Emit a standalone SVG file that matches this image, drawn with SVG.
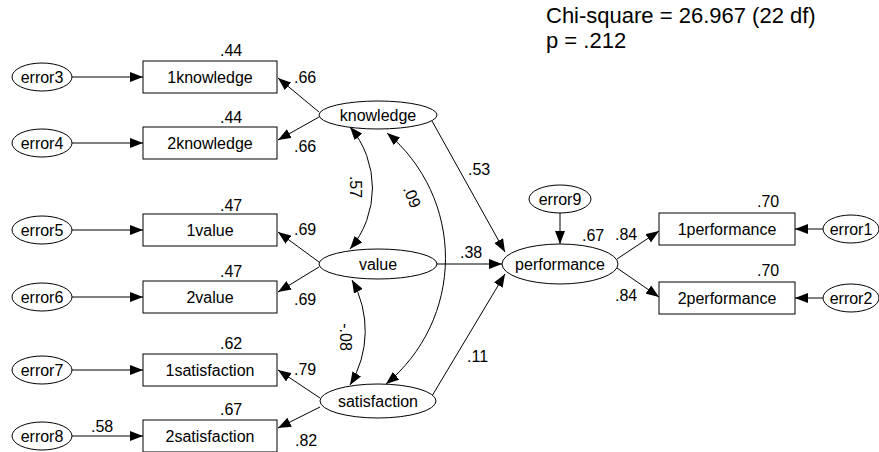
<svg xmlns="http://www.w3.org/2000/svg" width="879" height="452" viewBox="0 0 879 452">
<defs>
<marker id="ah" viewBox="0 0 13 10" refX="13" refY="5" markerWidth="13" markerHeight="10" markerUnits="userSpaceOnUse" orient="auto-start-reverse">
<path d="M0,0 L13,5 L0,10 z" fill="#000"/>
</marker>
<style>
text{font-family:"Liberation Sans",Arial,sans-serif;font-size:16px;fill:#000}
.big{font-size:22px}
.c{text-anchor:middle}
rect,ellipse{fill:#fff;stroke:#000;stroke-width:1}
.ln{fill:none;stroke:#000;stroke-width:1;marker-end:url(#ah)}
.dbl{fill:none;stroke:#000;stroke-width:1;marker-start:url(#ah);marker-end:url(#ah)}
</style>
</defs>
<rect width="879" height="452" fill="#fff" style="stroke:none"/>
<g id="fit">
<text class="big" x="546" y="22.5">Chi-square = 26.967 (22 df)</text>
<text class="big" x="546" y="47.5">p = .212</text>
</g>
<g id="connectors">
<path class="ln" d="M72,77 L143,77"/>
<path class="ln" d="M72,143 L143,143"/>
<path class="ln" d="M72,230 L143,230"/>
<path class="ln" d="M72,297 L143,297"/>
<path class="ln" d="M72,370 L143,370"/>
<path class="ln" d="M72,436 L143,436"/>
<path class="ln" d="M319,112 L278,78"/>
<path class="ln" d="M319,117 L278,140"/>
<path class="ln" d="M319,262 L278,232"/>
<path class="ln" d="M319,267 L278,292"/>
<path class="ln" d="M320,398 L278,370"/>
<path class="ln" d="M320,407 L278,428"/>
<path class="ln" d="M432,121 L505,252"/>
<path class="ln" d="M437,264 L502,264"/>
<path class="ln" d="M432,396 L505,274"/>
<path class="ln" d="M560,213 L560,244"/>
<path class="ln" d="M617,259 L659,231"/>
<path class="ln" d="M617,268 L659,297"/>
<path class="ln" d="M823,229 L795,229"/>
<path class="ln" d="M823,298 L795,298"/>
<path class="dbl" d="M350,127 A94,94 0 0 1 350,249"/>
<path class="dbl" d="M387,133 A163,163 0 0 1 386,384"/>
<path class="dbl" d="M352,280 A104,104 0 0 1 350,385"/>
</g>
<g id="error3"><ellipse cx="42" cy="77" rx="30" ry="14"/><text class="c" x="42" y="82.5">error3</text></g>
<g id="error4"><ellipse cx="42" cy="143" rx="30" ry="14"/><text class="c" x="42" y="148.5">error4</text></g>
<g id="error5"><ellipse cx="42" cy="230" rx="30" ry="14"/><text class="c" x="42" y="235.5">error5</text></g>
<g id="error6"><ellipse cx="42" cy="297" rx="30" ry="14"/><text class="c" x="42" y="302.5">error6</text></g>
<g id="error7"><ellipse cx="42" cy="370" rx="30" ry="14"/><text class="c" x="42" y="375.5">error7</text></g>
<g id="error8"><ellipse cx="42" cy="436" rx="30" ry="14"/><text class="c" x="42" y="441.5">error8</text></g>
<g id="b1knowledge"><rect x="143" y="61" width="134" height="32"/><text class="c" x="210" y="82.5">1knowledge</text></g>
<g id="b2knowledge"><rect x="143" y="127" width="134" height="32"/><text class="c" x="210" y="148.5">2knowledge</text></g>
<g id="b1value"><rect x="143" y="214" width="134" height="32"/><text class="c" x="210" y="235.5">1value</text></g>
<g id="b2value"><rect x="143" y="281" width="134" height="32"/><text class="c" x="210" y="302.5">2value</text></g>
<g id="b1satisfaction"><rect x="143" y="354" width="134" height="32"/><text class="c" x="210" y="375.5">1satisfaction</text></g>
<g id="b2satisfaction"><rect x="143" y="420" width="134" height="32"/><text class="c" x="210" y="441.5">2satisfaction</text></g>
<g id="knowledge"><ellipse cx="378" cy="115" rx="59" ry="14"/><text class="c" x="378" y="120.5">knowledge</text></g>
<g id="value"><ellipse cx="378" cy="264" rx="59" ry="15"/><text class="c" x="378" y="269.5">value</text></g>
<g id="satisfaction"><ellipse cx="378" cy="401" rx="58" ry="17"/><text class="c" x="378" y="406.5">satisfaction</text></g>
<g id="error9"><ellipse cx="560" cy="199" rx="31" ry="14"/><text class="c" x="560" y="204.5">error9</text></g>
<g id="performance"><ellipse cx="560" cy="264" rx="58" ry="20"/><text class="c" x="560" y="269.5">performance</text></g>
<g id="b1performance"><rect x="659" y="213" width="136" height="32"/><text class="c" x="727" y="234.5">1performance</text></g>
<g id="b2performance"><rect x="659" y="282" width="136" height="32"/><text class="c" x="727" y="303.5">2performance</text></g>
<g id="error1"><ellipse cx="851" cy="229" rx="28" ry="14"/><text class="c" x="851" y="234.5">error1</text></g>
<g id="error2"><ellipse cx="851" cy="298" rx="28" ry="14"/><text class="c" x="851" y="303.5">error2</text></g>
<g id="labels">
<text x="220" y="56">.44</text>
<text x="220" y="123">.44</text>
<text x="294" y="83">.66</text>
<text x="294" y="152">.66</text>
<text x="220" y="211">.47</text>
<text x="220" y="277">.47</text>
<text x="294" y="235">.69</text>
<text x="294" y="305">.69</text>
<text x="220" y="349">.62</text>
<text x="220" y="415">.67</text>
<text x="294" y="375">.79</text>
<text x="295" y="446">.82</text>
<text x="91" y="432">.58</text>
<text x="468" y="175">.53</text>
<text x="460" y="258">.38</text>
<text x="467" y="362">.11</text>
<text x="582" y="241">.67</text>
<text x="615" y="240">.84</text>
<text x="615" y="301">.84</text>
<text x="757" y="207">.70</text>
<text x="757" y="276">.70</text>
<text class="c" transform="translate(350,187) rotate(90)">.57</text>
<text class="c" transform="translate(407,199) rotate(67)">.09</text>
<text class="c" transform="translate(340,337) rotate(90)">-.08</text>
</g>
</svg>
